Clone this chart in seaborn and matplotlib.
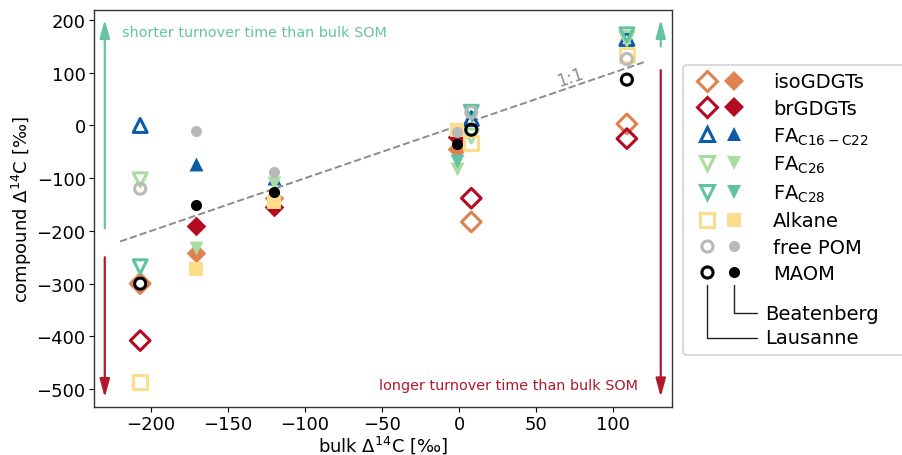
import numpy as np
import pandas as pd
import matplotlib
matplotlib.use("Agg")
import matplotlib.pyplot as plt
import seaborn as sns
from matplotlib.lines import Line2D
from matplotlib.legend_handler import HandlerTuple
from matplotlib.patches import FancyBboxPatch
from matplotlib.transforms import IdentityTransform

# ---------------- data ----------------
bulk_lausanne = [-207, 8, 109]
bulk_beatenberg = [-171, -120, -1]

labels = ["isoGDGTs", "brGDGTs", r"FA$_{\mathregular{C16-C22}}$", r"FA$_{\mathregular{C26}}$",
          r"FA$_{\mathregular{C28}}$", "Alkane", "free POM", "MAOM"]
colors = ["#e0824f", "#b40a22", "#0b5ba9", "#a9dca0", "#61c3a1", "#fedd8a", "#b9b9b9", "#000000"]
markers = ["D", "D", "^", "v", "v", "s", "o", "o"]
msizes = [10, 10, 10, 10, 10, 10, 8, 8]

iso_lausanne = [-300, -183, 3]
iso_beatenberg = [-241, -137, -44]
br_lausanne = [-408, -138, -25]
br_beatenberg = [-191, -155, -22]
fa1622_lausanne = [0, 13, 165]
fa1622_beatenberg = [-74, -100, np.nan]
fa26_lausanne = [-103, -20, 165]
fa26_beatenberg = [-233, -110, -82]
fa28_lausanne = [-268, 25, 172]
fa28_beatenberg = [np.nan, np.nan, -68]
alkane_lausanne = [-486, -34, 133]
alkane_beatenberg = [-273, -146, -8]
pom_lausanne = [-120, 25, 126]
pom_beatenberg = [-10, -88, -12]
maom_lausanne = [-300, -8, 87]
maom_beatenberg = [-150, -127, -36]

lausanne = [iso_lausanne, br_lausanne, fa1622_lausanne, fa26_lausanne,
            fa28_lausanne, alkane_lausanne, pom_lausanne, maom_lausanne]
beatenberg = [iso_beatenberg, br_beatenberg, fa1622_beatenberg, fa26_beatenberg,
              fa28_beatenberg, alkane_beatenberg, pom_beatenberg, maom_beatenberg]

# ---------------- figure ----------------
sns.set_style("ticks", rc={"text.color": "black", "axes.labelcolor": "black",
                           "xtick.color": "black", "ytick.color": "black"})
plt.rcParams["font.family"] = ["DejaVu Sans"]
W, H = 903, 456
fig = plt.figure(figsize=(W / 100, H / 100), dpi=100)
ax = fig.add_axes([94 / W, 1 - 408 / H, (672 - 94) / W, (408 - 11) / H])

green = "#66c2a5"
red = "#b2182b"

# 1:1 line
ax.plot([-220, 120], [-220, 120], ls="--", color="#8c8c8c", lw=1.4, zorder=1)
ax.text(72, 93, "1:1", color="#8c8c8c", fontsize=12, rotation=19,
        ha="center", va="center")

for i in range(len(labels)):
    c, m, ms = colors[i], markers[i], msizes[i]
    df_l = pd.DataFrame({"x": bulk_lausanne, "y": lausanne[i]}).dropna()
    df_b = pd.DataFrame({"x": bulk_beatenberg, "y": beatenberg[i]}).dropna()
    sns.scatterplot(data=df_l, x="x", y="y", ax=ax, marker=m, s=ms ** 2,
                    color=c, facecolor="none", edgecolor=c, linewidth=2.2, zorder=3 + i)
    sns.scatterplot(data=df_b, x="x", y="y", ax=ax, marker=m, s=ms ** 2,
                    color=c, edgecolor=c, linewidth=0, zorder=3 + i)

# arrows
def arrow(x, y0, y1, col):
    ax.annotate("", xy=(x, y1), xytext=(x, y0),
                arrowprops=dict(arrowstyle="-|>,head_width=0.3,head_length=1.1",
                                color=col, lw=1.6, shrinkA=0, shrinkB=0), zorder=2)

arrow(-230, -195, 201, green)
arrow(-230, -250, -516, red)
arrow(131, 150, 201, green)
arrow(131, 105, -515, red)

ax.text(-219, 178, "shorter turnover time than bulk SOM", color=green,
        fontsize=10.4, ha="left", va="center")
ax.text(116, -493, "longer turnover time than bulk SOM", color=red,
        fontsize=10.4, ha="right", va="center")

ax.set_xlim(-237, 138.3)
ax.set_ylim(-534, 219)
ax.set_xticks([-200, -150, -100, -50, 0, 50, 100])
ax.set_yticks([-500, -400, -300, -200, -100, 0, 100, 200])
ax.tick_params(labelsize=13, length=3.5, width=0.8, pad=2.5)
ax.set_xlabel("bulk Δ$^{14}$C [‰]", fontsize=13, labelpad=0)
ax.set_ylabel("compound Δ$^{14}$C [‰]", fontsize=13, labelpad=2)
for sp in ax.spines.values():
    sp.set_color("#333333")
    sp.set_linewidth(1.0)

# ---------------- legend ----------------
box = FancyBboxPatch((683, H - 356), 240, 290, boxstyle="round,pad=0,rounding_size=4",
                     transform=IdentityTransform(), facecolor="white",
                     edgecolor="#cccccc", lw=1.0, zorder=1)
fig.add_artist(box)

handles = []
for c, m, ms in zip(colors, markers, msizes):
    h_open = Line2D([], [], ls="none", marker=m, ms=ms, mfc="none", mec=c, mew=2.2)
    h_fill = Line2D([], [], ls="none", marker=m, ms=ms, mfc=c, mec=c, mew=0)
    handles.append((h_open, h_fill))
leg = fig.legend(handles, labels, handler_map={tuple: HandlerTuple(ndivide=None, pad=0)},
                 loc="upper left", bbox_to_anchor=(693.5 / W, 1 - 73.5 / H),
                 frameon=False, handlelength=2.78, handletextpad=1.31,
                 labelspacing=0.38, borderpad=0, borderaxespad=0, fontsize=14)
leg.set_zorder(5)

def px_line(xs, ys):
    fig.add_artist(Line2D([x / W for x in xs], [1 - y / H for y in ys],
                          transform=fig.transFigure, color="#222222", lw=1.0, zorder=6))

px_line([707, 707, 757], [286, 339, 339])
px_line([734, 734, 757], [286, 314, 314])
fig.text(765 / W, 1 - 314 / H, "Beatenberg", fontsize=14, ha="left", va="center", zorder=6)
fig.text(765 / W, 1 - 339 / H, "Lausanne", fontsize=14, ha="left", va="center", zorder=6)

fig.savefig("out.png", dpi=100)
